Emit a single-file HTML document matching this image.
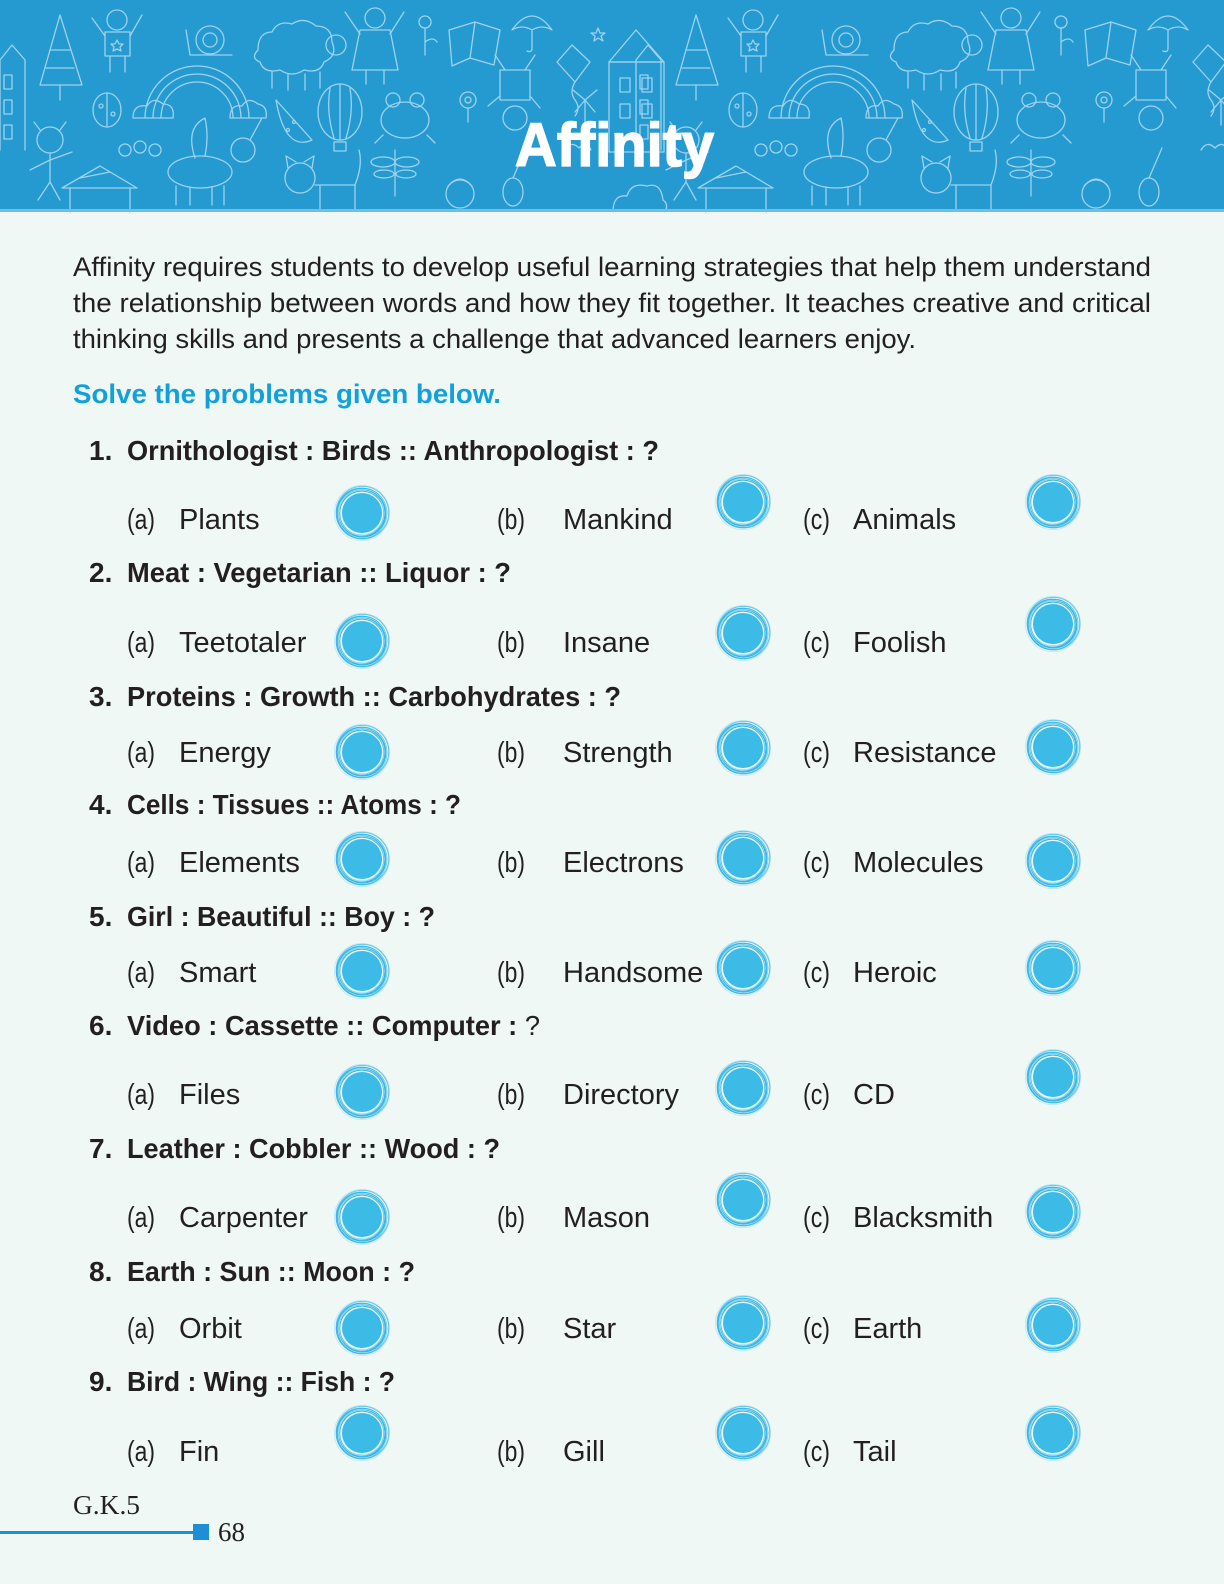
<!DOCTYPE html>
<html><head><meta charset="utf-8"><style>
html,body{margin:0;padding:0;background:#eff8f5;}
svg{display:block;}
</style></head><body>
<svg width="1224" height="1584" viewBox="0 0 1224 1584" xmlns="http://www.w3.org/2000/svg">
<defs>
<g id="t" fill="none" stroke="#9ed2ee" stroke-width="1.3" stroke-linejoin="round" stroke-linecap="round">
  <path d="M0 150 V60 L12 45 L25 60 V150"/><rect x="4" y="75" width="8" height="14"/><rect x="4" y="100" width="8" height="14"/><rect x="4" y="125" width="8" height="14"/>
  <path d="M40 85 L60 15 L82 85 Z"/><path d="M60 85 V100"/><path d="M50 50 L70 50 M46 68 L74 68"/>
  <circle cx="117" cy="20" r="10"/><path d="M105 32 H130 V56 H105 Z M110 56 V72 M125 56 V72 M105 36 L92 18 M130 36 L142 15"/><path d="M117 40 l2 4 4 0 -3 3 1 4 -4 -2 -4 2 1 -4 -3 -3 4 0z"/>
  <circle cx="210" cy="40" r="14"/><circle cx="210" cy="40" r="7"/><path d="M190 55 H232 M190 55 L186 30"/>
  <path d="M258 50 q0 -18 14 -18 q6 -12 20 -8 q12 -8 24 2 q16 0 16 16 q6 14 -8 20 q-4 12 -20 8 q-12 8 -24 0 q-16 4 -20 -8 q-10 -4 -2 -12z"/><circle cx="336" cy="45" r="10"/><path d="M272 72 V88 M288 74 V90 M305 74 V90 M320 72 V88"/>
  <circle cx="375" cy="18" r="10"/><path d="M360 30 H390 L398 70 H352 Z M366 70 V84 M384 70 V84 M360 34 L345 12 M390 34 L404 12"/>
  <circle cx="425" cy="22" r="6"/><path d="M425 28 V55 M425 42 q8 -6 12 0"/>
  <path d="M449 30 L475 22 L500 30 L494 65 L470 58 L452 66 Z M475 22 L470 58"/>
  <path d="M512 30 q20 -28 40 0 q-10 -6 -20 0 q-10 -6 -20 0z M532 30 V48 q0 5 -5 3"/>
  <path d="M598 28 l2 5 5 0 -4 3 2 5 -5 -3 -4 3 1 -5 -4 -3 5 0z"/>
  <path d="M572 45 L590 62 L575 82 L557 62 Z M575 82 q-6 10 0 18 q6 8 0 16"/>
  <path d="M609 62 L636 30 L664 62 Z"/><rect x="609" y="62" width="55" height="90"/><rect x="620" y="78" width="10" height="14"/><rect x="642" y="78" width="10" height="14"/><rect x="620" y="104" width="10" height="14"/><rect x="642" y="104" width="10" height="14"/>
  <path d="M145 118 A52 52 0 0 1 249 118 M153 118 A44 44 0 0 1 241 118 M161 118 A36 36 0 0 1 233 118"/>
  <path d="M133 118 q0 -14 14 -12 q6 -10 16 -2 q12 0 10 14 z M230 118 q0 -14 12 -12 q6 -10 16 -2 q10 2 8 14 z"/>
  <ellipse cx="107" cy="110" rx="14" ry="17"/><path d="M107 93 V127"/><circle cx="101" cy="106" r="2"/><circle cx="113" cy="114" r="2"/>
  <path d="M276 100 L312 140 Q285 152 276 100 Z"/><circle cx="288" cy="130" r="1.5"/><circle cx="294" cy="122" r="1.5"/>
  <ellipse cx="340" cy="112" rx="22" ry="28"/><path d="M340 84 V140 M330 88 Q326 112 334 138 M350 88 Q354 112 346 138"/><rect x="334" y="142" width="12" height="9"/>
  <ellipse cx="405" cy="120" rx="24" ry="18"/><circle cx="393" cy="100" r="7"/><circle cx="417" cy="100" r="7"/><path d="M383 135 l-8 8 M427 135 l8 8"/>
  <circle cx="468" cy="100" r="8"/><circle cx="468" cy="100" r="3"/><path d="M468 108 V122"/>
  <rect x="500" y="70" width="30" height="30"/><circle cx="515" cy="118" r="12"/><path d="M505 70 L495 55 M525 70 L535 55 M500 96 L488 106 M530 96 L540 108"/>
  <path d="M585 100 l-12 -10 M585 100 l12 -10 M585 100 l-10 12 M585 100 l10 12 M585 100 V125"/>
  <circle cx="50" cy="140" r="13"/><path d="M50 153 V182 M50 160 L30 170 M50 160 L72 152 M50 182 L38 200 M50 182 L60 200 M40 130 l-6 -8 M60 130 l6 -8"/>
  <circle cx="125" cy="150" r="6"/><circle cx="140" cy="147" r="6"/><circle cx="155" cy="150" r="6"/>
  <ellipse cx="200" cy="172" rx="32" ry="16"/><circle cx="243" cy="150" r="12"/><path d="M250 140 L262 118 M176 186 V205 M190 188 V205 M212 188 V205 M224 186 V205 M195 158 q-10 -30 10 -40 q4 18 0 38"/>
  <circle cx="300" cy="178" r="15"/><path d="M288 168 l-2 -12 10 6 M312 168 l2 -12 -10 6 M315 185 H355 V210 M320 185 V210 M355 185 q8 -20 4 -35"/>
  <path d="M395 150 V196"/><ellipse cx="383" cy="162" rx="12" ry="5"/><ellipse cx="407" cy="162" rx="12" ry="5"/><ellipse cx="384" cy="174" rx="10" ry="4"/><ellipse cx="406" cy="174" rx="10" ry="4"/>
  <circle cx="460" cy="194" r="14"/><path d="M448 186 q12 -14 24 0"/>
  <ellipse cx="513" cy="192" rx="10" ry="14"/><path d="M513 178 L526 148"/>
  <path d="M62 188 L100 166 L137 188 Z"/><path d="M70 188 V212 M130 188 V212"/><path d="M80 178 L110 172"/>
  <path d="M613 212 q0 -18 14 -16 q4 -14 20 -10 q14 -4 16 14 q6 4 2 12"/>
  <path d="M565 150 q6 -10 14 -2 q8 -8 12 2"/>
</g>
<g id="c">
  <circle r="27.6" fill="none" stroke="#c2e8f7" stroke-width="0.9"/>
  <circle cx="0.5" cy="-0.4" r="26.3" fill="none" stroke="#6cc8ec" stroke-width="1.2"/>
  <circle cx="-0.3" cy="0.3" r="23.6" fill="none" stroke="#3bb8e3" stroke-width="4.2"/>
  <circle cx="0.4" cy="0.5" r="24.4" fill="none" stroke="#d8f0fa" stroke-width="0.5"/>
  <circle cx="-0.4" cy="-0.2" r="22.6" fill="none" stroke="#d8f0fa" stroke-width="0.5"/>
  <circle r="20.8" fill="none" stroke="#e6f6fc" stroke-width="0.8"/>
  <circle r="20" fill="#3bbbe5"/>
</g>
</defs>

<rect width="1224" height="1584" fill="#eff8f5"/>
<rect x="0" y="0" width="1224" height="212" fill="#249ad0"/>
<use href="#t" x="0" y="0"/>
<use href="#t" x="636" y="0"/>
<rect x="0" y="209" width="1224" height="3" fill="#6dbfe6"/>
<text x="515" y="166" font-family="Liberation Sans, sans-serif" font-weight="bold" font-size="61" fill="#ffffff" stroke="#ffffff" stroke-width="1.5" textLength="199" lengthAdjust="spacingAndGlyphs">Affinity</text>

<g font-family="Liberation Sans, sans-serif" font-size="27" fill="#231f20">
<text x="73" y="276" textLength="1078" lengthAdjust="spacingAndGlyphs">Affinity requires students to develop useful learning strategies that help them understand</text>
<text x="73" y="312" textLength="1078" lengthAdjust="spacingAndGlyphs">the relationship between words and how they fit together. It teaches creative and critical</text>
<text x="73" y="348" textLength="843" lengthAdjust="spacingAndGlyphs">thinking skills and presents a challenge that advanced learners enjoy.</text>
</g>
<text x="73" y="403" font-family="Liberation Sans, sans-serif" font-weight="bold" font-size="27" fill="#12a0da" textLength="428" lengthAdjust="spacingAndGlyphs">Solve the problems given below.</text>

<g font-family="Liberation Sans, sans-serif" font-weight="bold" font-size="28" fill="#231f20">
<text x="89" y="460">1.</text><text x="127" y="460" textLength="532" lengthAdjust="spacingAndGlyphs">Ornithologist : Birds :: Anthropologist : ?</text>
<text x="89" y="582">2.</text><text x="127" y="582" textLength="384" lengthAdjust="spacingAndGlyphs">Meat : Vegetarian :: Liquor : ?</text>
<text x="89" y="706">3.</text><text x="127" y="706" textLength="494" lengthAdjust="spacingAndGlyphs">Proteins : Growth :: Carbohydrates : ?</text>
<text x="89" y="814">4.</text><text x="127" y="814" textLength="334" lengthAdjust="spacingAndGlyphs">Cells : Tissues :: Atoms : ?</text>
<text x="89" y="926">5.</text><text x="127" y="926" textLength="308" lengthAdjust="spacingAndGlyphs">Girl : Beautiful :: Boy : ?</text>
<text x="89" y="1035">6.</text><text x="127" y="1035" textLength="413" lengthAdjust="spacingAndGlyphs">Video : Cassette :: Computer : <tspan font-weight="normal">?</tspan></text>
<text x="89" y="1158">7.</text><text x="127" y="1158" textLength="373" lengthAdjust="spacingAndGlyphs">Leather : Cobbler :: Wood : ?</text>
<text x="89" y="1281">8.</text><text x="127" y="1281" textLength="288" lengthAdjust="spacingAndGlyphs">Earth : Sun :: Moon : ?</text>
<text x="89" y="1391">9.</text><text x="127" y="1391" textLength="268" lengthAdjust="spacingAndGlyphs">Bird : Wing :: Fish : ?</text>
</g>

<g font-family="Liberation Sans, sans-serif" font-size="29" fill="#231f20">
<text x="127" y="529" textLength="28" lengthAdjust="spacingAndGlyphs">(a)</text><text x="179" y="529">Plants</text>
<text x="497" y="529" textLength="28" lengthAdjust="spacingAndGlyphs">(b)</text><text x="563" y="529">Mankind</text>
<text x="803" y="529" textLength="27" lengthAdjust="spacingAndGlyphs">(c)</text><text x="853" y="529">Animals</text>

<text x="127" y="652" textLength="28" lengthAdjust="spacingAndGlyphs">(a)</text><text x="179" y="652">Teetotaler</text>
<text x="497" y="652" textLength="28" lengthAdjust="spacingAndGlyphs">(b)</text><text x="563" y="652">Insane</text>
<text x="803" y="652" textLength="27" lengthAdjust="spacingAndGlyphs">(c)</text><text x="853" y="652">Foolish</text>

<text x="127" y="762" textLength="28" lengthAdjust="spacingAndGlyphs">(a)</text><text x="179" y="762">Energy</text>
<text x="497" y="762" textLength="28" lengthAdjust="spacingAndGlyphs">(b)</text><text x="563" y="762">Strength</text>
<text x="803" y="762" textLength="27" lengthAdjust="spacingAndGlyphs">(c)</text><text x="853" y="762">Resistance</text>

<text x="127" y="872" textLength="28" lengthAdjust="spacingAndGlyphs">(a)</text><text x="179" y="872">Elements</text>
<text x="497" y="872" textLength="28" lengthAdjust="spacingAndGlyphs">(b)</text><text x="563" y="872">Electrons</text>
<text x="803" y="872" textLength="27" lengthAdjust="spacingAndGlyphs">(c)</text><text x="853" y="872">Molecules</text>

<text x="127" y="982" textLength="28" lengthAdjust="spacingAndGlyphs">(a)</text><text x="179" y="982">Smart</text>
<text x="497" y="982" textLength="28" lengthAdjust="spacingAndGlyphs">(b)</text><text x="563" y="982">Handsome</text>
<text x="803" y="982" textLength="27" lengthAdjust="spacingAndGlyphs">(c)</text><text x="853" y="982">Heroic</text>

<text x="127" y="1104" textLength="28" lengthAdjust="spacingAndGlyphs">(a)</text><text x="179" y="1104">Files</text>
<text x="497" y="1104" textLength="28" lengthAdjust="spacingAndGlyphs">(b)</text><text x="563" y="1104">Directory</text>
<text x="803" y="1104" textLength="27" lengthAdjust="spacingAndGlyphs">(c)</text><text x="853" y="1104">CD</text>

<text x="127" y="1227" textLength="28" lengthAdjust="spacingAndGlyphs">(a)</text><text x="179" y="1227">Carpenter</text>
<text x="497" y="1227" textLength="28" lengthAdjust="spacingAndGlyphs">(b)</text><text x="563" y="1227">Mason</text>
<text x="803" y="1227" textLength="27" lengthAdjust="spacingAndGlyphs">(c)</text><text x="853" y="1227">Blacksmith</text>

<text x="127" y="1338" textLength="28" lengthAdjust="spacingAndGlyphs">(a)</text><text x="179" y="1338">Orbit</text>
<text x="497" y="1338" textLength="28" lengthAdjust="spacingAndGlyphs">(b)</text><text x="563" y="1338">Star</text>
<text x="803" y="1338" textLength="27" lengthAdjust="spacingAndGlyphs">(c)</text><text x="853" y="1338">Earth</text>

<text x="127" y="1461" textLength="28" lengthAdjust="spacingAndGlyphs">(a)</text><text x="179" y="1461">Fin</text>
<text x="497" y="1461" textLength="28" lengthAdjust="spacingAndGlyphs">(b)</text><text x="563" y="1461">Gill</text>
<text x="803" y="1461" textLength="27" lengthAdjust="spacingAndGlyphs">(c)</text><text x="853" y="1461">Tail</text>
</g>

<use href="#c" x="362" y="513"/><use href="#c" x="362" y="641"/><use href="#c" x="362" y="752"/>
<use href="#c" x="362" y="859"/><use href="#c" x="362" y="971"/><use href="#c" x="362" y="1092"/>
<use href="#c" x="362" y="1217"/><use href="#c" x="362" y="1328"/><use href="#c" x="362" y="1433"/>
<use href="#c" x="743" y="502"/><use href="#c" x="743" y="633"/><use href="#c" x="743" y="748"/>
<use href="#c" x="743" y="858"/><use href="#c" x="743" y="968"/><use href="#c" x="743" y="1088"/>
<use href="#c" x="743" y="1200"/><use href="#c" x="743" y="1323"/><use href="#c" x="743" y="1433"/>
<use href="#c" x="1053" y="502"/><use href="#c" x="1053" y="624"/><use href="#c" x="1053" y="747"/>
<use href="#c" x="1053" y="861"/><use href="#c" x="1053" y="968"/><use href="#c" x="1053" y="1077"/>
<use href="#c" x="1053" y="1212"/><use href="#c" x="1053" y="1325"/><use href="#c" x="1053" y="1433"/>

<text x="73" y="1514" font-family="Liberation Serif, serif" font-size="27" fill="#231f20" textLength="67" lengthAdjust="spacingAndGlyphs">G.K.5</text>
<rect x="0" y="1531" width="195" height="3" fill="#1e8ed6"/>
<rect x="193" y="1524" width="16" height="16" fill="#1e8ed6"/>
<text x="218" y="1541" font-family="Liberation Serif, serif" font-size="27" fill="#231f20">68</text>
</svg>
</body></html>
